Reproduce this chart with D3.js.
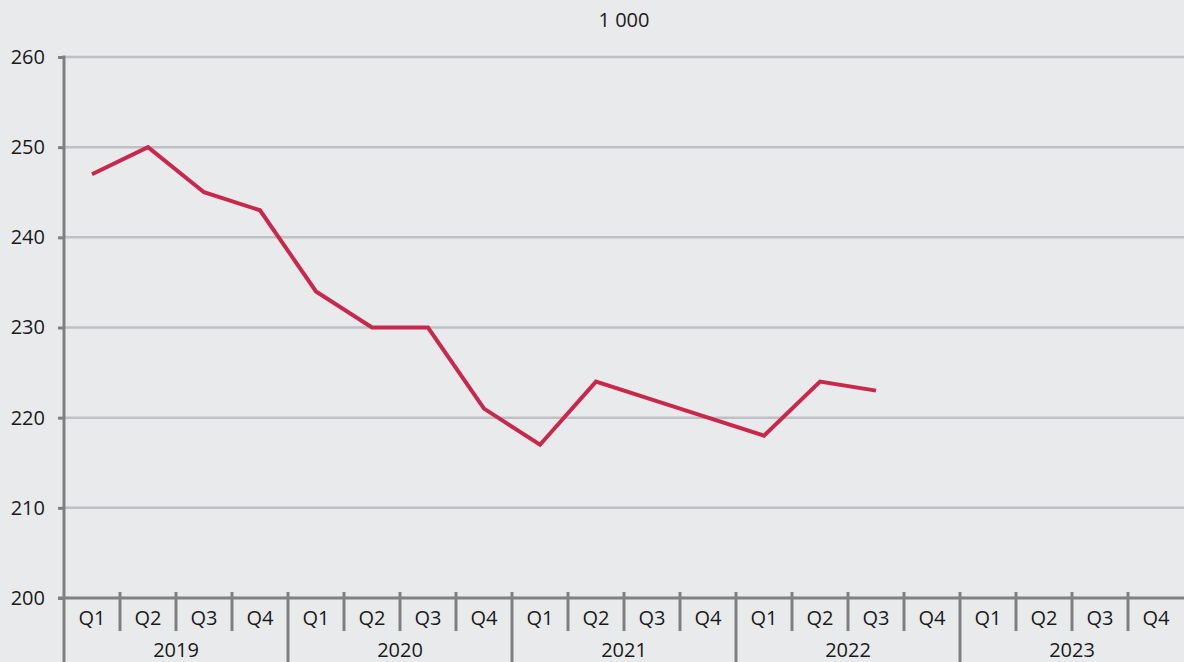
<!DOCTYPE html>
<html>
<head>
<meta charset="utf-8">
<script src="https://cdn.jsdelivr.net/npm/d3@7"></script>
<style>
  html, body { margin: 0; padding: 0; background: #e9eaec; }
  svg { display: block; font-family: "Open Sans", "Noto Sans", sans-serif; }
</style>
</head>
<body>
<div id="chart"></div>
<script>
// quarterly series, thousands
var years = ["2019", "2020", "2021", "2022", "2023"];
var quarters = ["Q1", "Q2", "Q3", "Q4"];
var values = [247, 250, 245, 243, 234, 230, 230, 221, 217, 224, 222, 220, 218, 224, 223];
var yTicks = [200, 210, 220, 230, 240, 250, 260];
var unitLabel = "1 000";

var width = 1184, height = 662;
var m = { left: 64, right: 0, top: 57, bottom: 64 };
var fs = 20;

var svg = d3.select("#chart").append("svg")
    .attr("width", width)
    .attr("height", height);

svg.append("rect").attr("width", width).attr("height", height).attr("fill", "#e9eaec");

var cats = [];
years.forEach(function (yr) {
    quarters.forEach(function (q) { cats.push(yr + " " + q); });
});

var x = d3.scaleBand()
    .domain(cats)
    .range([m.left, width - m.right]);

var y = d3.scaleLinear()
    .domain([200, 260])
    .range([height - m.bottom, m.top]);

// gridlines
svg.append("g")
    .selectAll("line")
    .data(yTicks.slice(1))
    .enter().append("line")
    .attr("x1", m.left)
    .attr("x2", width)
    .attr("y1", function (d) { return y(d); })
    .attr("y2", function (d) { return y(d); })
    .attr("stroke", "#bfc0c4")
    .attr("stroke-width", 2.5);

// y axis
var yAxis = svg.append("g")
    .attr("transform", "translate(" + m.left + ",0)")
    .call(d3.axisLeft(y).tickValues(yTicks).tickSize(6).tickPadding(13).tickSizeOuter(0));
yAxis.attr("font-size", fs).attr("font-family", null);
yAxis.select(".domain").attr("stroke", "#808080").attr("stroke-width", 3)
    .attr("d", "M0," + (y(260) - 1.5) + "V" + height);
yAxis.selectAll(".tick line").attr("stroke", "#808080").attr("stroke-width", 3);
yAxis.selectAll("text").attr("fill", "#1a1a1a");

// x axis baseline
var base = y(200);
svg.append("line")
    .attr("x1", m.left - 6).attr("x2", width)
    .attr("y1", base).attr("y2", base)
    .attr("stroke", "#808080").attr("stroke-width", 3);

// quarter ticks
svg.append("g")
    .selectAll("line")
    .data(cats.filter(function (c, i) { return i % 4 !== 0; }))
    .enter().append("line")
    .attr("x1", function (d) { return x(d); })
    .attr("x2", function (d) { return x(d); })
    .attr("y1", base - 6)
    .attr("y2", base + 33)
    .attr("stroke", "#808080")
    .attr("stroke-width", 3);

// year separators
svg.append("g")
    .selectAll("line")
    .data(years.slice(1))
    .enter().append("line")
    .attr("x1", function (d) { return x(d + " Q1"); })
    .attr("x2", function (d) { return x(d + " Q1"); })
    .attr("y1", base - 6)
    .attr("y2", height)
    .attr("stroke", "#808080")
    .attr("stroke-width", 3);

// quarter labels
svg.append("g")
    .selectAll("text")
    .data(cats)
    .enter().append("text")
    .attr("x", function (d) { return x(d) + x.bandwidth() / 2; })
    .attr("y", base + 27)
    .attr("text-anchor", "middle")
    .attr("font-size", fs)
    .attr("fill", "#1a1a1a")
    .text(function (d) { return d.split(" ")[1]; });

// year labels
svg.append("g")
    .selectAll("text")
    .data(years)
    .enter().append("text")
    .attr("x", function (d) { return x(d + " Q1") + x.bandwidth() * 2; })
    .attr("y", base + 59)
    .attr("text-anchor", "middle")
    .attr("font-size", fs)
    .attr("fill", "#1a1a1a")
    .text(function (d) { return d; });

// unit label
svg.append("text")
    .attr("x", 624)
    .attr("y", 27)
    .attr("text-anchor", "middle")
    .attr("font-size", fs)
    .attr("fill", "#1a1a1a")
    .text(unitLabel);

// the series
var line = d3.line()
    .x(function (d, i) { return x(cats[i]) + x.bandwidth() / 2; })
    .y(function (d) { return y(d); });

svg.append("path")
    .datum(values)
    .attr("d", line)
    .attr("fill", "none")
    .attr("stroke", "#c9284c")
    .attr("stroke-width", 4)
    .attr("stroke-linejoin", "miter");
</script>
</body>
</html>
